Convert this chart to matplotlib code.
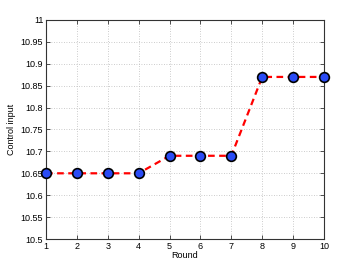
import matplotlib
matplotlib.use("Agg")
import matplotlib.pyplot as plt

rounds = [1, 2, 3, 4, 5, 6, 7, 8, 9, 10]
control_input = [10.65, 10.65, 10.65, 10.65, 10.69, 10.69, 10.69, 10.87, 10.87, 10.87]
yticks = [10.5, 10.55, 10.6, 10.65, 10.7, 10.75, 10.8, 10.85, 10.9, 10.95, 11]
ytick_labels = ["10.5", "10.55", "10.6", "10.65", "10.7", "10.75", "10.8", "10.85", "10.9", "10.95", "11"]

plt.rcParams["font.family"] = ["Liberation Sans", "DejaVu Sans"]

fig = plt.figure(figsize=(3.58, 2.69), dpi=100)
ax = fig.add_axes([0.1285, 0.1115, 0.7765, 0.8142])

ax.plot(rounds, control_input, color="red", linestyle="--", linewidth=1.6,
        dashes=(3, 2), marker="o", markersize=7,
        markerfacecolor="#2a4bf5", markeredgecolor="black", markeredgewidth=1.2,
        clip_on=False, zorder=3)

ax.set_xlim(1, 10)
ax.set_ylim(10.5, 11)
ax.set_xticks(rounds)
ax.set_yticks(yticks)
ax.set_yticklabels(ytick_labels)
ax.tick_params(direction="in", top=True, right=True, labelsize=6.5, length=3,
               width=0.6, pad=2, color="#333333")
ax.grid(True, linestyle=(0, (1, 2)), color="#bbbbbb", linewidth=0.6)
for s in ax.spines.values():
    s.set_linewidth(0.8)
    s.set_color("#333333")

ax.set_xlabel("Round", fontsize=6.5, labelpad=0)
ax.set_ylabel("Control input", fontsize=6.5, labelpad=3)

fig.savefig("out.png", dpi=100)
